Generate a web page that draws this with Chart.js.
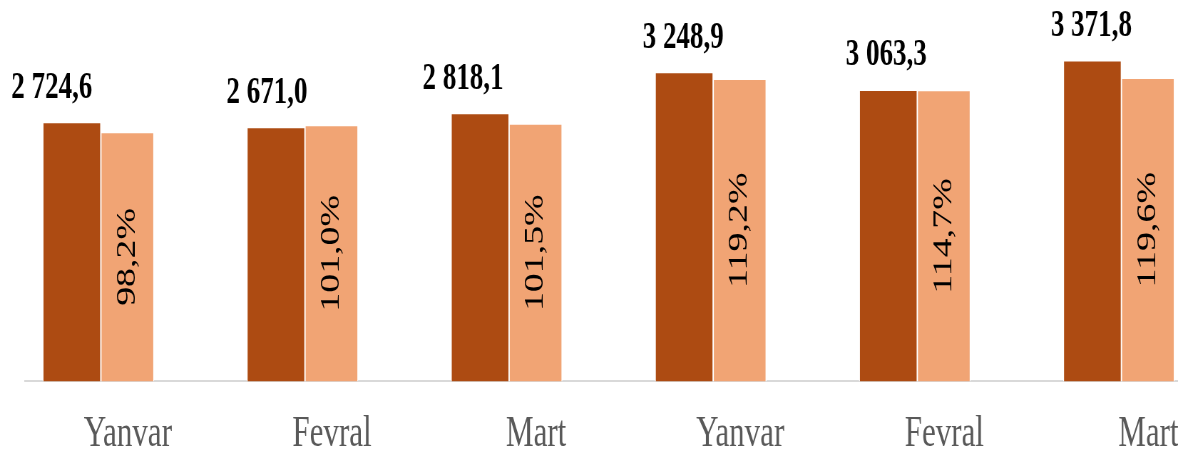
<!DOCTYPE html>
<html lang="az">
<head>
<meta charset="UTF-8">
<title>Aylar üzrə göstəricilər</title>
<script src="https://cdn.jsdelivr.net/npm/chart.js"></script>
<style>
  html,body{margin:0;padding:0;background:#fff;overflow:hidden;width:1178px;height:449px}
  /* the original picture is stretched vertically: draw squeezed, stretch back with css */
  #grafik{display:block;transform:scaleY(1.403125);transform-origin:0 0}
</style>
</head>
<body>
<canvas id="grafik" width="1178" height="320" style="width:1178px;height:320px"></canvas>
<script>
/* ---------- data ---------- */
const aylar  = ["Yanvar", "Fevral", "Mart", "Yanvar", "Fevral", "Mart"];
const mebleg = [2724.6, 2671.0, 2818.1, 3248.9, 3063.3, 3371.8];
const faiz   = [98.2, 101.0, 101.5, 119.2, 114.7, 119.6];
const meblegMax = 4000;   // hidden left axis
const faizMax   = 150;    // hidden right axis

/* ---------- style ---------- */
const UZAT = 1.403125;                       // same as scaleY in css
const SERIF = '"Liberation Serif", "Times New Roman", serif';
const etiketSurus = [-20, -9, -17, -1, -2, -1]; // value labels are not centred in the original

// 2724.6 -> "2 724,6"
function reqem(v){
  const [t, k] = v.toFixed(1).split('.');
  return t.replace(/\B(?=(\d{3})+(?!\d))/g, ' ') + ',' + k;
}

/* value labels over the dark bars, rotated % inside the light ones */
const etiketler = {
  id: 'etiketler',
  afterDatasetsDraw(chart){
    const ctx = chart.ctx;
    const m0 = chart.getDatasetMeta(0), m1 = chart.getDatasetMeta(1);
    ctx.save();
    ctx.fillStyle = '#000';
    ctx.textAlign = 'center';
    ctx.textBaseline = 'alphabetic';
    ctx.font = 'bold 27px ' + SERIF;
    m0.data.forEach((bar, i) => {
      ctx.fillText(reqem(mebleg[i]), bar.x + etiketSurus[i], bar.y - 24.5 / UZAT);
    });
    ctx.font = '27px ' + SERIF;
    ctx.textBaseline = 'middle';
    m1.data.forEach((bar, i) => {
      ctx.save();
      ctx.translate(bar.x, (bar.y + bar.base) / 2);
      ctx.rotate(-Math.PI / 2);
      ctx.fillText(faiz[i].toFixed(1).replace('.', ',') + '%', 0, 0);
      ctx.restore();
    });
    ctx.restore();
  }
};

new Chart(document.getElementById('grafik'), {
  type: 'bar',
  data: {
    datasets: [
      {
        data: mebleg.map((v, i) => ({x: i, y: v})),
        yAxisID: 'y',
        backgroundColor: '#AD4B12',
        borderColor: '#fff',
        borderWidth: 1,
        barThickness: 58
      },
      {
        data: faiz.map((v, i) => ({x: i, y: v})),
        yAxisID: 'y2',
        backgroundColor: '#F1A474',
        borderColor: '#fff',
        borderWidth: 1,
        barThickness: 53
      }
    ]
  },
  options: {
    responsive: false,
    animation: false,
    devicePixelRatio: UZAT,
    layout: {padding: {left: 25, right: 0, top: 0.6, bottom: 0}},
    plugins: {legend: {display: false}, tooltip: {enabled: false}},
    scales: {
      x: {
        type: 'linear',
        offset: false,
        min: -0.3716,
        max: 5.2804,
        grid: {display: false, drawTicks: false},
        border: {display: true, color: '#d9d9d9', width: 1.5},
        ticks: {
          stepSize: 1,
          includeBounds: false,
          autoSkip: false,
          maxRotation: 0,
          labelOffset: 27,
          padding: 19.5,
          color: '#595959',
          font: {family: SERIF, size: 31},
          callback: v => aylar[v] ?? ''
        },
        afterFit: s => { s.height = 48.1; }
      },
      y:  {display: false, min: 0, max: meblegMax},
      y2: {display: false, min: 0, max: faizMax}
    }
  },
  plugins: [etiketler]
});
</script>
</body>
</html>
